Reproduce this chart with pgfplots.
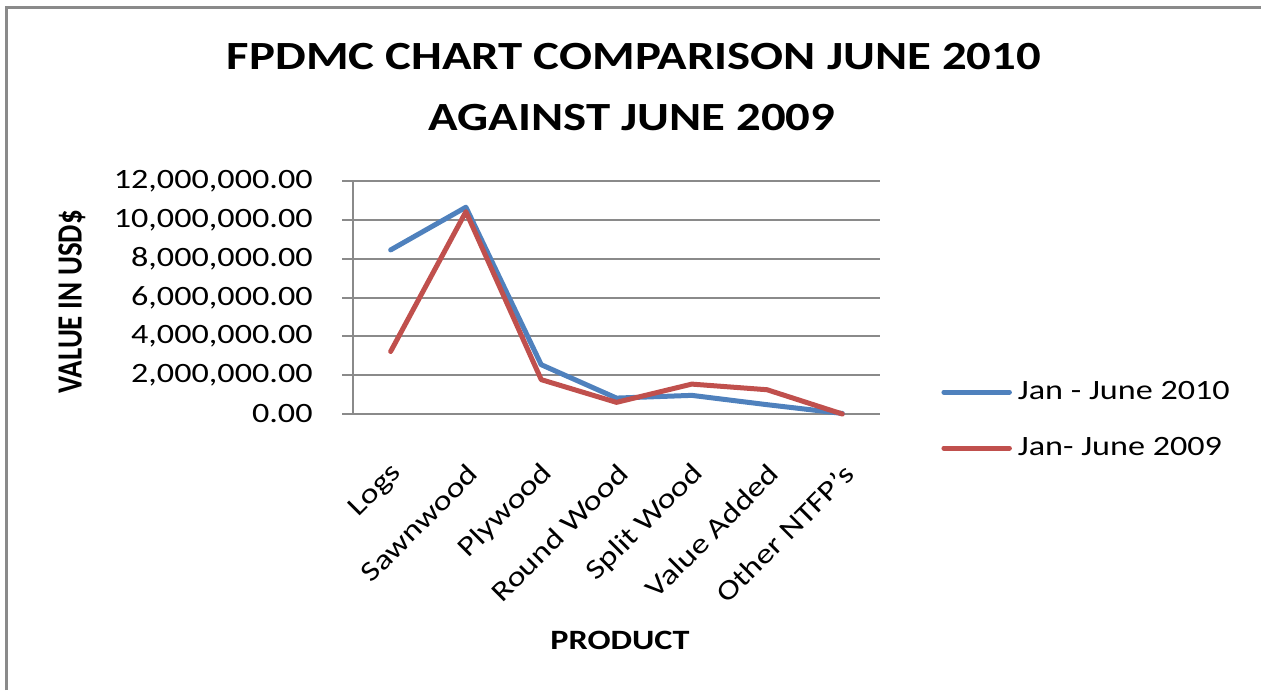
\documentclass[border=0pt]{standalone}
\usepackage{pgfplots}
\pgfplotsset{compat=1.18}
\usepackage{graphicx}
\usepackage{fontspec}
\setmainfont{Carlito}[FakeStretch=1.22]
\newfontfamily\plainfont{Carlito}
\definecolor{serA}{HTML}{4F81BD}
\definecolor{serB}{HTML}{C0504D}
\definecolor{gridgray}{HTML}{8A8A8A}
\begin{document}
\begin{tikzpicture}[x=0.5pt,y=-0.5pt]
% page: 1261 x 690 px, 1 px = 0.5pt
\path[use as bounding box] (0,0) rectangle (1261,690);
\draw[gridgray, line width=1.5pt] (6,690) -- (6,8) -- (1261,8);

\node[anchor=base, font=\fontsize{20}{24}\selectfont\bfseries] at (634,69) {FPDMC CHART COMPARISON JUNE 2010};
\node[anchor=base, font=\fontsize{20}{24}\selectfont\bfseries] at (632,130) {AGAINST JUNE 2009};
\node[anchor=base, font=\fontsize{14}{16}\selectfont\bfseries] at (620,649) {PRODUCT};
\node[rotate=90] at (72,302) {\scalebox{1}[1.22]{\plainfont\bfseries\fontsize{14.5}{16}\selectfont VALUE IN USD\$}};

\begin{axis}[
  at={(176.5pt,-207pt)}, anchor=south west,
  scale only axis, width=263.5pt, height=116.5pt,
  xmin=-0.5, xmax=6.5, ymin=0, ymax=12000000,
  axis x line=bottom, axis y line=left,
  axis line style={draw=gridgray, line width=1pt, -},
  ymajorgrids, grid style={draw=gridgray, line width=1pt},
  tick align=outside, tick style={draw=gridgray, line width=1pt},
  major tick length=5.5pt,
  xtick={0,...,6},
  xticklabels={Logs,Sawnwood,Plywood,Round Wood,Split Wood,Value Added,Other NTFP’s},
  major x tick style={draw=none},
  extra x ticks={-0.5,0.5,1.5,2.5,3.5,4.5,5.5,6.5},
  extra x tick labels={},
  extra x tick style={tick style={draw=gridgray, line width=1pt}},
  xticklabel style={font=\fontsize{14}{16}\selectfont, inner sep=0pt, xshift=3.5pt, yshift=-22pt, rotate=45, anchor=east},
  ytick={0,2000000,4000000,6000000,8000000,10000000,12000000},
  yticklabels={0.00,{2,000,000.00},{4,000,000.00},{6,000,000.00},{8,000,000.00},{10,000,000.00},{12,000,000.00}},
  yticklabel style={font=\fontsize{14}{16}\selectfont, inner sep=0pt, anchor=east, xshift=-14.5pt},
  scaled y ticks=false,
  legend style={draw=none, fill=none, at={(rel axis cs:1.1044,-0.026)}, anchor=west,
    font=\fontsize{14}{16}\selectfont, row sep=15pt,
    nodes={inner sep=0pt, text height=10pt, text depth=3pt},
    /tikz/column sep=3pt},
  legend cell align=left,
  legend image code/.code={\draw[#1] (1.25pt,0pt) -- (34pt,0pt);},
  every axis plot/.append style={line width=2.5pt, line join=round, line cap=round},
  clip=false,
]
\addplot[serA] coordinates {(0,8450000) (1,10650000) (2,2540000) (3,820000) (4,960000) (5,480000) (6,30000)};
\addlegendentry{Jan - June 2010}
\addplot[serB] coordinates {(0,3220000) (1,10420000) (2,1770000) (3,600000) (4,1540000) (5,1250000) (6,0)};
\addlegendentry{Jan- June 2009}
\end{axis}
\end{tikzpicture}
\end{document}
